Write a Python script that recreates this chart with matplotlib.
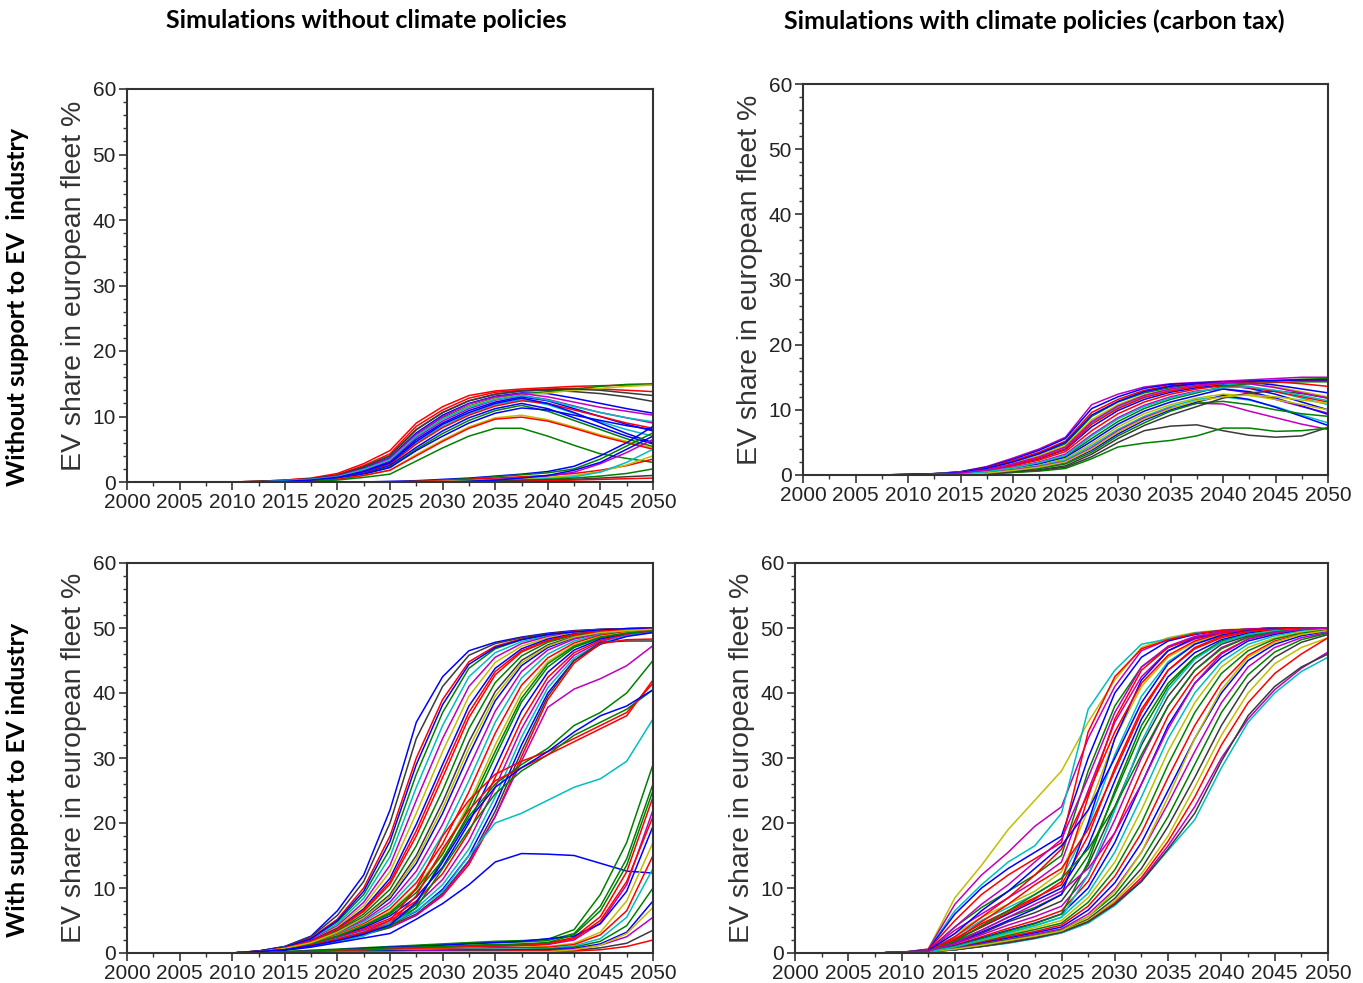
import matplotlib
matplotlib.use("Agg")
import matplotlib.pyplot as plt
from matplotlib.ticker import MultipleLocator

# x grids of the simulation output
yearsLeft = [2010, 2012.5, 2015, 2017.5, 2020, 2022.5, 2025, 2027.5, 2030, 2032.5,
             2035, 2037.5, 2040, 2042.5, 2045, 2047.5, 2050]
yearsRight = [2007.5] + yearsLeft

# top left: without support, without climate policies
tlCurves = [
    [0, 0.1, 0.3, 0.6, 1.3, 2.8, 4.8, 9.0, 11.5, 13.2, 13.9, 14.2, 14.4, 14.6, 14.7, 14.8, 14.8],
    [0, 0.1, 0.3, 0.5, 1.1, 2.5, 4.3, 8.5, 11.0, 12.8, 13.7, 14.0, 14.2, 14.3, 14.2, 14.0, 13.8],
    [0, 0.1, 0.2, 0.5, 1.0, 2.3, 4.0, 8.0, 10.6, 12.4, 13.4, 13.9, 14.0, 13.8, 13.5, 13.0, 12.3],
    [0, 0, 0.2, 0.4, 0.9, 2.1, 3.7, 7.5, 10.2, 12.0, 13.1, 13.6, 13.5, 12.8, 12.0, 11.2, 10.5],
    [0, 0, 0.2, 0.4, 0.8, 2.0, 3.5, 7.2, 9.8, 11.6, 12.8, 13.4, 13.8, 14.2, 14.6, 14.9, 15.0],
    [0, 0, 0.2, 0.4, 0.8, 1.9, 3.4, 7.0, 9.6, 11.5, 12.7, 13.3, 13.6, 14.0, 14.3, 14.6, 14.8],
    [0, 0, 0.2, 0.3, 0.7, 1.8, 3.2, 6.8, 9.3, 11.2, 12.5, 13.2, 12.6, 11.6, 10.6, 9.8, 9.0],
    [0, 0, 0.1, 0.3, 0.7, 1.7, 3.0, 6.5, 9.0, 10.9, 12.2, 13.0, 12.4, 11.2, 10.0, 8.8, 7.8],
    [0, 0, 0.1, 0.3, 0.6, 1.5, 2.8, 6.0, 8.5, 10.4, 11.8, 12.6, 11.8, 10.5, 9.2, 8.0, 7.0],
    [0, 0, 0.1, 0.3, 0.6, 1.5, 2.7, 5.8, 8.3, 10.2, 11.6, 12.4, 12.0, 11.0, 10.0, 9.0, 8.2],
    [0, 0, 0.1, 0.2, 0.5, 1.3, 2.5, 5.3, 7.8, 9.8, 11.2, 12.0, 11.2, 9.8, 8.4, 7.0, 5.8],
    [0, 0, 0.1, 0.2, 0.5, 1.2, 2.3, 5.0, 7.4, 9.4, 10.9, 11.7, 10.8, 9.4, 8.0, 6.6, 5.4],
    [0, 0, 0.1, 0.2, 0.5, 1.2, 2.2, 4.8, 7.0, 9.0, 10.5, 11.3, 11.0, 10.2, 9.4, 8.6, 8.0],
    [0, 0, 0.1, 0.2, 0.4, 1.0, 1.8, 4.2, 6.4, 8.4, 9.8, 10.2, 9.5, 8.4, 7.2, 6.2, 5.2],
    [0, 0, 0.1, 0.2, 0.4, 1.0, 1.8, 4.0, 6.2, 8.2, 9.6, 9.9, 9.3, 8.2, 7.0, 6.0, 5.0],
    [0, 0, 0, 0.1, 0.3, 0.7, 1.2, 3.2, 5.2, 7.0, 8.2, 8.2, 7.0, 5.6, 4.3, 3.6, 3.0],
    [0, 0.1, 0.2, 0.5, 1.0, 2.3, 4.0, 8.0, 10.6, 12.4, 13.4, 13.9, 14.1, 14.2, 14.0, 13.6, 13.2],
    [0, 0, 0.2, 0.4, 0.9, 2.0, 3.6, 7.3, 10.0, 11.9, 13.0, 13.5, 13.0, 12.2, 11.4, 10.8, 10.2],
    [0, 0, 0.2, 0.4, 0.8, 1.9, 3.4, 7.0, 9.6, 11.4, 12.6, 13.2, 12.5, 11.5, 10.6, 9.8, 9.2],
    [0, 0, 0.1, 0.3, 0.7, 1.6, 2.9, 6.2, 8.8, 10.6, 12.0, 12.8, 12.0, 10.6, 9.0, 7.4, 6.0],
    [0, 0, 0, 0, 0, 0, 0.1, 0.2, 0.4, 0.6, 0.9, 1.2, 1.6, 2.4, 4.0, 6.0, 8.5],
    [0, 0, 0, 0, 0, 0, 0, 0.1, 0.3, 0.5, 0.8, 1.1, 1.4, 2.0, 3.5, 5.5, 7.5],
    [0, 0, 0, 0, 0, 0, 0, 0.1, 0.2, 0.4, 0.6, 0.8, 1.0, 1.3, 1.8, 2.5, 3.5],
    [0, 0, 0, 0, 0, 0, 0, 0, 0.1, 0.2, 0.4, 0.6, 0.9, 1.5, 2.8, 4.5, 6.5],
    [0, 0, 0, 0, 0, 0, 0, 0, 0.1, 0.2, 0.3, 0.5, 0.7, 1.0, 1.6, 2.6, 4.0],
    [0, 0, 0, 0, 0, 0, 0, 0, 0, 0.1, 0.2, 0.3, 0.5, 0.8, 1.5, 3.0, 5.0],
    [0, 0, 0, 0, 0, 0, 0, 0, 0, 0.1, 0.2, 0.3, 0.4, 0.6, 0.9, 1.3, 2.0],
    [0, 0, 0, 0, 0, 0, 0, 0, 0, 0, 0.1, 0.2, 0.3, 0.4, 0.6, 0.8, 1.0],
    [0, 0, 0, 0, 0, 0, 0, 0, 0, 0, 0, 0.1, 0.2, 0.3, 0.4, 0.5, 0.6],
    [0, 0, 0, 0, 0, 0, 0, 0, 0, 0.1, 0.3, 0.6, 1.0, 1.8, 3.0, 5.0, 7.0],
]
tlColors = "rrkbgymbcrbgbyrgkmcbbgrmycgkrb"

# top right: without support, with carbon tax
trCurves = [
    [0, 0.1, 0.2, 0.5, 1.3, 2.6, 4.0, 5.8, 10.8, 12.4, 13.5, 14.0, 14.2, 14.4, 14.6, 14.8, 15.0, 15.0],
    [0, 0.1, 0.2, 0.5, 1.2, 2.4, 3.8, 5.6, 10.2, 12.0, 13.3, 13.9, 14.1, 14.3, 14.2, 13.8, 13.2, 12.6],
    [0, 0.1, 0.2, 0.4, 1.1, 2.2, 3.5, 5.2, 9.6, 11.6, 13.0, 13.7, 14.0, 14.2, 14.4, 14.5, 14.5, 14.5],
    [0, 0, 0.2, 0.4, 1.0, 2.0, 3.2, 4.8, 9.0, 11.2, 12.6, 13.4, 13.9, 14.1, 14.3, 14.5, 14.7, 14.8],
    [0, 0, 0.2, 0.4, 0.9, 1.8, 3.0, 4.5, 8.5, 10.8, 12.3, 13.2, 13.8, 14.2, 14.0, 13.5, 12.8, 12.0],
    [0, 0, 0.1, 0.3, 0.8, 1.6, 2.7, 4.2, 8.0, 10.4, 12.0, 13.0, 13.6, 14.0, 13.6, 12.8, 11.8, 10.8],
    [0, 0, 0.1, 0.3, 0.7, 1.5, 2.5, 3.9, 7.4, 9.9, 11.6, 12.7, 13.4, 13.8, 13.3, 12.4, 11.2, 10.0],
    [0, 0, 0.1, 0.3, 0.7, 1.4, 2.3, 3.6, 6.8, 9.4, 11.2, 12.4, 13.2, 13.7, 13.4, 12.8, 12.0, 11.2],
    [0, 0, 0.1, 0.2, 0.6, 1.2, 2.0, 3.2, 6.2, 8.8, 10.7, 12.0, 12.9, 13.2, 12.6, 11.6, 10.5, 9.5],
    [0, 0, 0.1, 0.2, 0.5, 1.0, 1.8, 2.9, 5.6, 8.2, 10.2, 11.6, 12.6, 13.6, 14.0, 14.2, 14.3, 14.3],
    [0, 0, 0.1, 0.2, 0.5, 1.0, 1.7, 2.7, 5.2, 7.8, 9.8, 11.2, 12.2, 13.2, 12.8, 11.8, 10.6, 9.3],
    [0, 0, 0.1, 0.2, 0.4, 0.9, 1.5, 2.5, 4.8, 7.4, 9.4, 10.8, 11.8, 12.4, 12.2, 11.6, 10.8, 10.0],
    [0, 0, 0.1, 0.2, 0.4, 0.8, 1.4, 2.3, 4.5, 7.0, 9.0, 10.5, 11.6, 12.0, 11.5, 10.5, 9.2, 8.0],
    [0, 0, 0.1, 0.2, 0.4, 0.8, 1.3, 2.1, 4.2, 6.8, 8.8, 10.3, 11.0, 10.9, 9.8, 8.8, 7.8, 7.0],
    [0, 0, 0, 0.1, 0.3, 0.6, 1.1, 1.9, 3.8, 6.3, 8.4, 10.0, 11.2, 12.2, 11.6, 10.4, 9.0, 7.6],
    [0, 0, 0, 0.1, 0.3, 0.6, 1.0, 1.7, 3.5, 6.0, 8.0, 9.8, 11.0, 11.3, 10.8, 10.0, 9.4, 9.0],
    [0, 0, 0, 0.1, 0.2, 0.4, 0.7, 1.2, 2.8, 5.0, 6.8, 7.5, 7.7, 6.8, 6.1, 5.8, 6.0, 7.3],
    [0, 0, 0, 0.1, 0.2, 0.4, 0.6, 1.0, 2.5, 4.3, 4.9, 5.3, 6.0, 7.2, 7.2, 6.7, 6.8, 7.2],
    [0, 0, 0.1, 0.3, 0.8, 1.6, 2.6, 4.0, 7.8, 10.2, 11.9, 12.9, 13.6, 14.1, 14.3, 14.3, 14.0, 13.6],
    [0, 0.1, 0.2, 0.4, 1.0, 2.0, 3.3, 5.0, 9.2, 11.3, 12.8, 13.6, 14.0, 14.2, 14.4, 14.5, 14.6, 14.6],
    [0, 0, 0, 0.1, 0.2, 0.5, 0.8, 1.4, 3.2, 5.6, 7.6, 9.2, 10.5, 11.8, 12.6, 12.9, 12.5, 11.8],
    [0, 0, 0, 0.1, 0.3, 0.7, 1.2, 2.0, 4.0, 6.6, 8.6, 10.2, 11.4, 12.0, 12.3, 12.0, 11.5, 11.0],
    [0, 0, 0.1, 0.2, 0.5, 1.1, 1.9, 3.0, 6.0, 8.6, 10.5, 11.8, 12.8, 13.4, 13.5, 13.0, 12.2, 11.4],
    [0, 0, 0.1, 0.3, 0.8, 1.7, 2.8, 4.3, 8.2, 10.6, 12.2, 13.2, 13.8, 14.2, 14.0, 13.4, 12.6, 11.8],
]
trColors = "mbrgycbrmgbycmbgkgrbkycm"

# bottom left: with support, without climate policies
blCurves = [
    [0, 0.3, 1.0, 2.6, 6.5, 12.0, 22.0, 35.5, 42.5, 46.5, 47.8, 48.6, 49.2, 49.6, 49.8, 49.9, 50.0],
    [0, 0.3, 1.0, 2.5, 5.8, 11.0, 20.0, 33.0, 41.0, 45.8, 47.6, 48.5, 49.1, 49.5, 49.8, 49.9, 50.0],
    [0, 0.3, 0.9, 2.3, 5.2, 10.0, 18.0, 30.0, 39.0, 44.8, 47.2, 48.3, 49.0, 49.5, 49.7, 49.9, 49.9],
    [0, 0.2, 0.9, 2.2, 4.8, 9.0, 16.0, 27.5, 37.0, 43.8, 46.8, 48.2, 49.0, 49.4, 49.7, 49.8, 49.9],
    [0, 0.2, 0.9, 2.1, 4.5, 8.4, 14.8, 25.5, 35.0, 42.5, 46.2, 47.9, 48.8, 49.4, 49.7, 49.8, 49.9],
    [0, 0.2, 0.8, 2.0, 4.2, 7.8, 13.5, 23.5, 33.0, 41.0, 45.5, 47.6, 48.7, 49.3, 49.6, 49.8, 49.9],
    [0, 0.2, 0.8, 1.9, 4.0, 7.3, 12.5, 21.5, 31.0, 39.5, 44.7, 47.2, 48.5, 49.2, 49.6, 49.8, 49.9],
    [0, 0.2, 0.8, 1.9, 3.8, 6.8, 11.5, 19.8, 29.0, 38.0, 43.8, 46.8, 48.3, 49.1, 49.5, 49.7, 49.8],
    [0, 0.2, 0.8, 1.8, 3.6, 6.4, 10.6, 18.0, 27.0, 36.2, 42.8, 46.3, 48.0, 49.0, 49.5, 49.7, 49.8],
    [0, 0.2, 0.7, 1.7, 3.4, 6.0, 9.8, 16.5, 25.0, 34.5, 41.6, 45.7, 47.8, 48.9, 49.4, 49.7, 49.8],
    [0, 0.2, 0.7, 1.7, 3.3, 5.6, 9.0, 15.0, 23.2, 32.5, 40.2, 45.0, 47.4, 48.7, 49.3, 49.6, 49.8],
    [0, 0.2, 0.7, 1.6, 3.1, 5.3, 8.4, 13.8, 21.5, 30.5, 38.8, 44.2, 47.0, 48.5, 49.2, 49.6, 49.8],
    [0, 0.2, 0.7, 1.6, 3.0, 5.0, 7.8, 12.6, 19.8, 28.5, 37.2, 43.3, 46.6, 48.3, 49.1, 49.5, 49.7],
    [0, 0.2, 0.6, 1.5, 2.9, 4.8, 7.3, 11.6, 18.2, 26.5, 35.5, 42.3, 46.0, 48.0, 49.0, 49.5, 49.7],
    [0, 0.2, 0.6, 1.5, 2.8, 4.5, 6.8, 10.8, 16.8, 24.8, 33.8, 41.2, 45.4, 47.7, 48.9, 49.4, 49.7],
    [0, 0.2, 0.6, 1.4, 2.7, 4.3, 6.4, 10.0, 15.5, 23.0, 32.0, 40.0, 44.8, 47.4, 48.7, 49.3, 49.6],
    [0, 0.2, 0.6, 1.4, 2.6, 4.1, 6.0, 9.3, 14.3, 21.5, 30.2, 38.6, 44.0, 47.0, 48.5, 49.2, 49.6],
    [0, 0.2, 0.6, 1.3, 2.5, 3.9, 5.7, 8.6, 13.2, 20.0, 28.5, 37.2, 43.2, 46.6, 48.3, 49.1, 49.5],
    [0, 0.2, 0.5, 1.3, 2.4, 3.7, 5.3, 8.0, 12.2, 18.6, 27.0, 35.8, 42.4, 46.2, 48.1, 49.0, 49.4],
    [0, 0.2, 0.5, 1.2, 2.3, 3.5, 5.0, 7.4, 11.3, 17.3, 25.5, 34.5, 41.6, 45.8, 47.9, 48.9, 49.4],
    [0, 0.2, 0.5, 1.2, 2.2, 3.3, 4.7, 6.9, 10.5, 16.0, 24.0, 33.2, 40.8, 45.4, 47.7, 48.8, 49.3],
    [0, 0.2, 0.5, 1.2, 2.1, 3.1, 4.4, 6.4, 9.8, 15.0, 22.8, 32.0, 40.0, 45.0, 47.5, 48.7, 49.3],
    [0, 0.2, 0.5, 1.1, 2.0, 3.0, 4.2, 6.0, 9.2, 14.2, 21.8, 31.0, 39.5, 45.0, 47.8, 48.0, 48.0],
    [0, 0.2, 0.5, 1.1, 2.0, 2.9, 4.0, 5.8, 8.8, 13.6, 21.0, 30.2, 39.0, 44.6, 47.6, 48.2, 48.3],
    [0, 0.2, 0.6, 1.4, 2.6, 4.2, 6.2, 9.8, 15.2, 22.5, 31.0, 39.2, 44.5, 47.2, 48.6, 49.2, 49.6],
    [0, 0.3, 0.9, 2.2, 5.0, 9.5, 17.2, 29.0, 38.2, 44.4, 47.0, 48.2, 49.0, 49.4, 49.7, 49.9, 50.0],
    [0, 0.2, 0.8, 1.8, 3.7, 6.6, 11.0, 18.8, 28.0, 37.0, 43.3, 46.5, 48.1, 49.0, 49.5, 49.7, 49.8],
    [0, 0.2, 0.7, 1.6, 3.2, 5.4, 8.7, 14.4, 22.3, 31.5, 39.5, 44.6, 47.2, 48.6, 49.3, 49.6, 49.8],
    # runs that slow down below saturation
    [0, 0.2, 0.5, 1.1, 1.9, 2.8, 3.9, 5.8, 9.0, 14.0, 21.0, 29.5, 37.8, 40.6, 42.2, 44.2, 47.3],
    [0, 0.2, 0.5, 1.1, 1.9, 2.9, 4.2, 7.5, 14.5, 21.0, 26.0, 29.0, 31.5, 35.0, 37.0, 40.0, 45.0],
    [0, 0.2, 0.5, 1.2, 2.1, 3.2, 5.0, 10.0, 18.0, 23.5, 27.5, 29.5, 31.0, 33.0, 35.0, 37.0, 41.5],
    [0, 0.2, 0.5, 1.1, 1.9, 2.8, 4.0, 7.0, 13.0, 19.0, 24.5, 28.0, 30.5, 33.5, 35.5, 37.5, 40.5],
    [0, 0.2, 0.5, 1.2, 2.0, 3.0, 4.5, 8.8, 16.0, 22.0, 26.5, 28.5, 30.5, 32.5, 34.5, 36.5, 42.0],
    [0, 0.2, 0.5, 1.0, 1.7, 2.6, 4.5, 6.5, 9.5, 15.0, 20.0, 21.5, 23.5, 25.5, 26.8, 29.5, 36.0],
    [0, 0.2, 0.4, 0.9, 1.6, 2.3, 3.0, 5.2, 7.6, 10.5, 14.0, 15.3, 15.2, 15.0, 13.8, 12.6, 12.3],
    [0, 0.2, 0.5, 1.1, 1.9, 2.9, 4.3, 7.8, 14.0, 20.5, 25.5, 28.5, 31.0, 34.0, 36.5, 38.0, 40.5],
    # runs that take off only after 2040
    [0, 0, 0.2, 0.4, 0.6, 0.8, 1.0, 1.2, 1.4, 1.6, 1.8, 1.9, 2.1, 3.6, 9.0, 17.0, 29.0],
    [0, 0, 0.2, 0.4, 0.5, 0.7, 0.9, 1.1, 1.3, 1.5, 1.6, 1.7, 1.9, 3.0, 7.2, 14.5, 26.0],
    [0, 0, 0.1, 0.3, 0.4, 0.6, 0.8, 0.9, 1.0, 1.1, 1.2, 1.3, 1.5, 2.4, 5.6, 12.5, 24.0],
    [0, 0, 0.1, 0.3, 0.4, 0.5, 0.6, 0.7, 0.8, 0.9, 1.0, 1.1, 1.3, 2.0, 4.6, 10.5, 22.0],
    [0, 0, 0.1, 0.3, 0.5, 0.7, 0.9, 1.0, 1.2, 1.4, 1.6, 1.8, 2.2, 2.6, 4.5, 9.5, 19.5],
    [0, 0, 0.1, 0.2, 0.3, 0.4, 0.5, 0.6, 0.7, 0.8, 0.8, 0.9, 1.0, 1.5, 3.2, 8.0, 17.0],
    [0, 0, 0.1, 0.2, 0.3, 0.4, 0.5, 0.6, 0.6, 0.7, 0.8, 0.8, 0.9, 1.3, 2.8, 6.5, 15.0],
    [0, 0, 0.1, 0.2, 0.3, 0.3, 0.4, 0.5, 0.5, 0.6, 0.6, 0.6, 0.7, 1.1, 2.2, 5.5, 13.0],
    [0, 0, 0.1, 0.2, 0.2, 0.3, 0.3, 0.4, 0.4, 0.5, 0.5, 0.5, 0.6, 0.9, 1.8, 4.2, 10.0],
    [0, 0, 0.1, 0.1, 0.2, 0.2, 0.3, 0.3, 0.4, 0.4, 0.4, 0.5, 0.5, 0.7, 1.4, 3.2, 8.0],
    [0, 0, 0.1, 0.1, 0.2, 0.2, 0.2, 0.3, 0.3, 0.3, 0.4, 0.4, 0.4, 0.6, 1.2, 2.5, 5.5],
    [0, 0, 0.1, 0.1, 0.1, 0.2, 0.2, 0.2, 0.2, 0.3, 0.3, 0.3, 0.3, 0.4, 0.8, 1.5, 3.5],
    [0, 0, 0, 0.1, 0.1, 0.1, 0.2, 0.2, 0.2, 0.2, 0.2, 0.3, 0.3, 0.3, 0.5, 1.0, 2.0],
    [0, 0, 0, 0.1, 0.1, 0.1, 0.1, 0.2, 0.2, 0.2, 0.2, 0.2, 0.2, 0.5, 1.2, 3.0, 7.0],
    [0, 0, 0.1, 0.2, 0.4, 0.5, 0.7, 0.8, 0.9, 1.0, 1.1, 1.2, 1.4, 2.2, 5.0, 11.0, 21.0],
    [0, 0, 0.1, 0.3, 0.5, 0.6, 0.8, 0.9, 1.0, 1.2, 1.3, 1.4, 1.6, 2.8, 6.5, 13.5, 25.0],
]
blColors = ("bkrgcmybrgkbmcrygbrmcbkrgbry" + "mgrgrcbb" + "ggrmbyrcgbmkryrg")

# bottom right: with support, with carbon tax
brCurves = [
    [0, 0.1, 0.6, 8.5, 13.5, 19.0, 23.5, 28.0, 35.5, 42.0, 47.0, 48.5, 49.3, 49.7, 49.9, 50, 50, 50],
    [0, 0.1, 0.6, 7.5, 12.0, 15.5, 19.5, 22.5, 33.0, 41.0, 46.5, 48.2, 49.2, 49.6, 49.8, 50, 50, 50],
    [0, 0.1, 0.5, 6.5, 10.5, 14.0, 16.5, 21.5, 37.5, 43.5, 47.5, 48.3, 49.2, 49.6, 49.8, 50, 50, 50],
    [0, 0.1, 0.5, 6.0, 10.0, 13.0, 15.5, 18.0, 30.0, 40.0, 45.5, 48.0, 49.0, 49.6, 49.8, 50, 50, 50],
    [0, 0.1, 0.5, 5.0, 9.0, 12.0, 14.5, 17.0, 34.0, 42.5, 46.8, 48.2, 49.1, 49.6, 49.8, 50, 50, 50],
    [0, 0.1, 0.4, 4.0, 7.0, 9.5, 12.0, 15.0, 28.0, 38.0, 44.0, 47.0, 48.6, 49.4, 49.7, 49.9, 50, 50],
    [0, 0.1, 0.4, 3.5, 6.0, 8.5, 11.0, 14.0, 25.0, 35.5, 42.5, 46.5, 48.3, 49.2, 49.7, 49.9, 50, 50],
    [0, 0.1, 0.4, 3.0, 5.5, 7.5, 9.5, 12.5, 22.0, 33.0, 41.0, 45.5, 47.8, 49.0, 49.6, 49.8, 50, 50],
    [0, 0.1, 0.3, 2.5, 5.0, 7.0, 9.0, 11.5, 19.5, 30.5, 39.5, 44.8, 47.5, 48.8, 49.5, 49.8, 50, 50],
    [0, 0.1, 0.3, 2.2, 4.5, 6.5, 8.5, 10.5, 18.0, 28.5, 37.5, 43.5, 46.8, 48.5, 49.4, 49.7, 49.9, 50],
    [0, 0.1, 0.3, 2.0, 4.0, 6.0, 8.0, 10.0, 16.5, 26.5, 36.0, 42.5, 46.2, 48.2, 49.2, 49.7, 49.9, 50],
    [0, 0.1, 0.3, 1.8, 3.5, 5.5, 7.0, 9.0, 15.0, 24.5, 34.0, 41.0, 45.5, 48.0, 49.0, 49.6, 49.9, 50],
    [0, 0.1, 0.3, 1.5, 3.0, 4.8, 6.2, 8.0, 13.5, 22.5, 32.0, 39.5, 44.5, 47.5, 48.8, 49.5, 49.8, 50],
    [0, 0.1, 0.3, 1.4, 2.8, 4.3, 5.6, 7.2, 12.0, 20.5, 30.0, 38.0, 43.5, 47.0, 48.6, 49.4, 49.8, 50],
    [0, 0.1, 0.2, 1.2, 2.5, 3.8, 5.0, 6.5, 11.0, 18.5, 28.0, 36.5, 42.5, 46.2, 48.3, 49.2, 49.7, 50],
    [0, 0.1, 0.2, 1.1, 2.3, 3.5, 4.6, 6.0, 10.0, 17.0, 26.0, 35.0, 41.5, 45.5, 48.0, 49.0, 49.6, 49.9],
    [0, 0.1, 0.2, 1.0, 2.1, 3.2, 4.2, 5.5, 9.2, 15.5, 24.0, 33.0, 40.0, 44.8, 47.5, 48.8, 49.5, 49.9],
    [0, 0.1, 0.2, 0.9, 1.9, 2.9, 3.9, 5.0, 8.5, 14.0, 22.0, 31.0, 38.5, 44.0, 47.0, 48.5, 49.4, 49.8],
    [0, 0.1, 0.2, 0.8, 1.7, 2.7, 3.6, 4.6, 7.8, 12.8, 20.0, 29.0, 37.0, 43.0, 46.5, 48.3, 49.2, 49.7],
    [0, 0.1, 0.2, 0.8, 1.6, 2.5, 3.3, 4.3, 7.2, 11.8, 18.5, 27.0, 35.0, 41.5, 45.8, 48.0, 49.0, 49.6],
    [0, 0.1, 0.2, 0.7, 1.5, 2.3, 3.1, 4.0, 6.6, 10.8, 17.0, 25.0, 33.0, 40.0, 45.0, 47.5, 48.8, 49.5],
    [0, 0.1, 0.2, 0.7, 1.4, 2.1, 2.9, 3.7, 6.0, 9.8, 15.5, 23.0, 31.0, 38.5, 44.0, 47.0, 48.5, 49.3],
    [0, 0.1, 0.2, 0.6, 1.3, 2.0, 2.7, 3.5, 5.6, 9.0, 14.2, 21.0, 29.0, 37.0, 42.8, 46.3, 48.2, 49.2],
    [0, 0.1, 0.2, 0.6, 1.2, 1.9, 2.6, 3.4, 5.2, 8.4, 13.0, 19.5, 27.0, 35.0, 41.5, 45.5, 47.8, 49.0],
    [0, 0.1, 0.2, 0.5, 1.1, 1.8, 2.5, 3.3, 5.0, 8.0, 12.2, 18.0, 25.5, 33.5, 40.0, 44.5, 47.0, 48.5],
    [0, 0.1, 0.2, 0.5, 1.1, 1.7, 2.4, 3.2, 4.8, 7.7, 11.6, 17.2, 24.0, 32.0, 38.5, 43.0, 46.0, 48.5],
    [0, 0.1, 0.2, 0.5, 1.0, 1.6, 2.3, 3.1, 4.7, 7.5, 11.2, 16.5, 22.5, 30.0, 36.0, 40.5, 43.8, 46.3],
    [0, 0.1, 0.2, 0.5, 1.0, 1.5, 2.2, 3.1, 4.6, 7.3, 11.0, 15.8, 20.5, 28.5, 35.5, 40.0, 43.3, 45.5],
    [0, 0.1, 0.2, 0.5, 1.0, 1.6, 2.3, 3.2, 4.8, 7.5, 11.0, 16.0, 21.5, 29.5, 36.5, 41.0, 44.0, 46.0],
    [0, 0.1, 0.2, 0.6, 1.2, 1.9, 2.6, 3.4, 5.6, 9.5, 15.5, 24.0, 33.0, 40.5, 45.5, 47.8, 49.0, 49.6],
    [0, 0.1, 0.3, 1.6, 3.2, 5.0, 6.8, 9.0, 20.0, 33.0, 42.0, 46.5, 48.5, 49.3, 49.7, 49.9, 50, 50],
    [0, 0.1, 0.3, 2.0, 4.0, 6.2, 8.3, 11.0, 24.0, 36.0, 43.5, 47.0, 48.6, 49.4, 49.7, 49.9, 50, 50],
    [0, 0.1, 0.2, 1.0, 2.2, 3.4, 4.5, 6.0, 14.0, 25.0, 35.0, 41.5, 45.5, 47.8, 49.0, 49.6, 49.9, 50],
    [0, 0.1, 0.2, 0.9, 2.0, 3.1, 4.2, 5.5, 12.0, 22.0, 32.5, 40.5, 45.2, 47.8, 49.0, 49.6, 49.9, 50],
    [0, 0.1, 0.4, 4.0, 7.5, 10.5, 14.0, 17.5, 27.0, 37.0, 44.0, 47.2, 48.7, 49.4, 49.8, 50, 50, 50],
    [0, 0.1, 0.3, 2.5, 5.5, 8.5, 12.0, 16.0, 24.5, 34.0, 41.5, 45.8, 48.0, 49.2, 49.7, 49.9, 50, 50],
    [0, 0.1, 0.4, 3.0, 6.5, 9.5, 13.0, 16.5, 22.0, 30.0, 38.5, 44.5, 47.5, 48.9, 49.6, 49.9, 50, 50],
    [0, 0.1, 0.3, 2.0, 4.8, 7.5, 10.5, 13.0, 19.0, 28.0, 37.0, 43.5, 47.0, 48.7, 49.5, 49.8, 50, 50],
    [0, 0.1, 0.3, 1.8, 4.2, 6.5, 9.0, 11.5, 16.0, 22.5, 30.5, 38.0, 43.5, 46.8, 48.6, 49.4, 49.8, 50],
    [0, 0.1, 0.3, 1.5, 3.5, 5.5, 7.5, 9.5, 13.0, 18.5, 26.0, 34.5, 41.5, 46.0, 48.3, 49.3, 49.8, 50],
]
brColors = "ymcbrgmycrbgkmrbcygrbmgkyrmckybrgcmrbrgm"

colTitles = ["Simulations without climate policies",
             "Simulations with climate policies (carbon tax)"]
rowTitles = ["Without support to EV  industry", "With support to EV industry"]
yLabel = "EV share in european fleet %"
xTicks = [2000, 2005, 2010, 2015, 2020, 2025, 2030, 2035, 2040, 2045, 2050]
yTicks = [0, 10, 20, 30, 40, 50, 60]

colorMap = {"r": "#ff0000", "b": "#0000ff", "g": "#008000", "c": "#00bfbf",
            "m": "#bf00bf", "y": "#bfbf00", "k": "#3a3a3a"}

W, H = 1363, 983


def addPanel(fig, box, years, curves, colors):
    left, top, right, bottom = box
    ax = fig.add_axes([left / W, 1 - bottom / H, (right - left) / W, (bottom - top) / H])
    for vals, c in zip(curves, colors):
        ax.plot(years, vals, color=colorMap[c], lw=1.1, solid_joinstyle="round")
    ax.set_xlim(2000, 2050)
    ax.set_ylim(0, 60)
    ax.set_xticks(xTicks)
    ax.set_yticks(yTicks)
    ax.xaxis.set_minor_locator(MultipleLocator(2.5))
    ax.yaxis.set_minor_locator(MultipleLocator(2))
    ax.tick_params(which="major", direction="out", length=6, width=1.2, color="#333333",
                   labelsize=15, labelcolor="#222222", pad=2)
    ax.tick_params(which="minor", direction="out", length=3, width=1.0, color="#333333")
    for s in ax.spines.values():
        s.set_linewidth(1.5)
        s.set_color("#333333")
    ax.set_ylabel(yLabel, fontsize=20.5, color="#333333", labelpad=4)
    return ax


def main():
    plt.rcParams["font.family"] = ["Liberation Sans", "DejaVu Sans"]
    fig = plt.figure(figsize=(W / 100, H / 100), dpi=100)

    addPanel(fig, (127, 89, 653, 482), yearsLeft, tlCurves, tlColors)
    addPanel(fig, (803, 84, 1328, 475), yearsRight, trCurves, trColors)
    addPanel(fig, (127, 563, 653, 953), yearsLeft, blCurves, blColors)
    addPanel(fig, (795, 563, 1328, 953), yearsRight, brCurves, brColors)

    boldFont = ["Lato", "DejaVu Sans"]
    fig.text(366 / W, 1 - 21 / H, colTitles[0], ha="center", va="center",
             fontsize=18, fontweight="bold", family=boldFont)
    fig.text(1034 / W, 1 - 21 / H, colTitles[1], ha="center", va="center",
             fontsize=18, fontweight="bold", family=boldFont)
    fig.text(18 / W, 1 - 307 / H, rowTitles[0], ha="center", va="center", rotation=90,
             fontsize=18, fontweight="bold", family=boldFont)
    fig.text(18 / W, 1 - 780 / H, rowTitles[1], ha="center", va="center", rotation=90,
             fontsize=18, fontweight="bold", family=boldFont)

    fig.savefig("out.png", dpi=100, facecolor="white")


main()
